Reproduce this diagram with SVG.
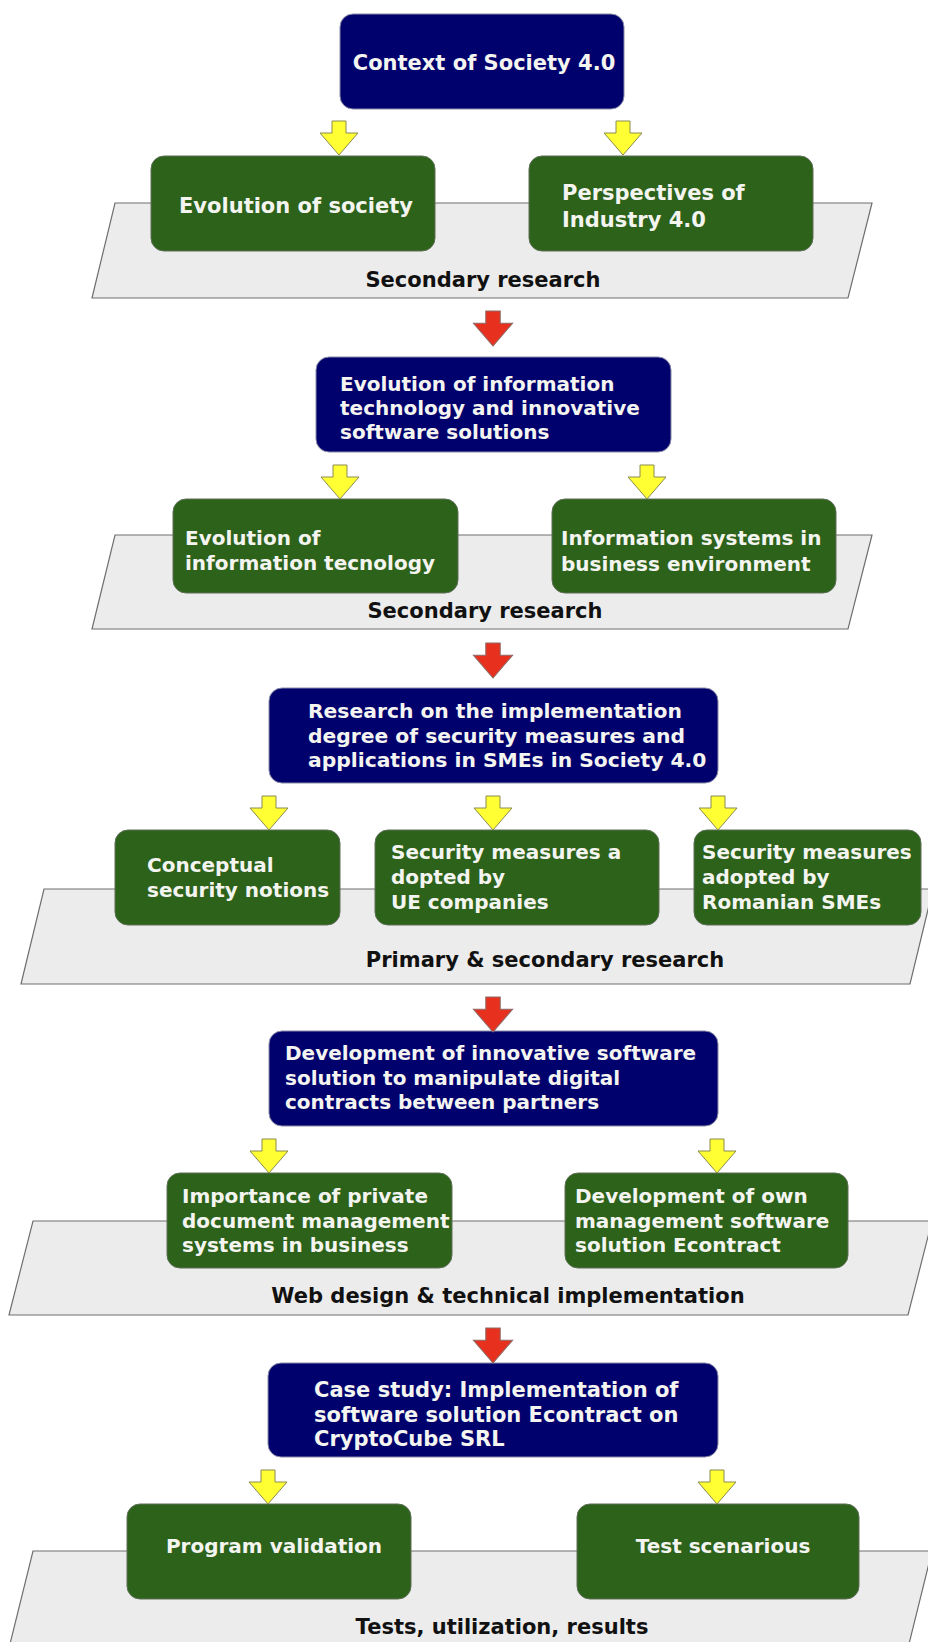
<svg xmlns="http://www.w3.org/2000/svg" xmlns:xlink="http://www.w3.org/1999/xlink" width="928" height="1642" viewBox="0 0 928 1642">
<style>
.bg{fill:#ffffff}
.para{fill:#ececec;stroke:#6e6e6e;stroke-width:1.2}
.blue{fill:#01016e;stroke:#8a8aa8;stroke-width:1}
.green{fill:#2c621a;stroke:#5c6e55;stroke-width:1}
.t{font-family:"DejaVu Sans",Verdana,sans-serif;font-weight:bold;fill:#f4f4f0}
.lbl{font-family:"DejaVu Sans",Verdana,sans-serif;font-weight:bold;fill:#111111;font-size:21px;text-anchor:middle}
.ya{fill:#ffff33;stroke:#8a8a50;stroke-width:1}
.ra{fill:#e8301e;stroke:#8c6a66;stroke-width:1}
</style>
<defs>
<path id="arr" d="M -7,-34 H 7 V -22 H 19 L 0,0 L -19,-22 H -7 Z"/>
</defs>
<rect class="bg" x="0" y="0" width="928" height="1642"/>

<g id="bands">
<polygon class="para" points="115,203 872,203 848,298 92,298"/>
<polygon class="para" points="115,535 872,535 848,629 92,629"/>
<polygon class="para" points="44,889 933,889 910,984 21,984"/>
<polygon class="para" points="33,1221 932,1221 908,1315 9,1315"/>
<polygon class="para" points="33,1551 932,1551 908,1648 9,1648"/>
<text class="lbl" x="483" y="287">Secondary research</text>
<text class="lbl" x="485" y="618">Secondary research</text>
<text class="lbl" x="545" y="967">Primary &amp; secondary research</text>
<text class="lbl" x="508" y="1303">Web design &amp; technical implementation</text>
<text class="lbl" x="502" y="1634">Tests, utilization, results</text>
</g>

<g id="n-context">
<rect class="blue" x="340" y="14" width="284" height="95" rx="13"/>
<text class="t" font-size="21" x="484" y="70" text-anchor="middle">Context of Society 4.0</text>
</g>
<g id="n-evo-society">
<rect class="green" x="151" y="156" width="284" height="95" rx="13"/>
<text class="t" font-size="21" x="296" y="213" text-anchor="middle">Evolution of society</text>
</g>
<g id="n-industry">
<rect class="green" x="529" y="156" width="284" height="95" rx="13"/>
<text class="t" font-size="21"><tspan x="562" y="200">Perspectives of</tspan><tspan x="562" y="227">Industry 4.0</tspan></text>
</g>

<g id="n-it">
<rect class="blue" x="316" y="357" width="355" height="95" rx="13"/>
<text class="t" font-size="20"><tspan x="340" y="391">Evolution of information</tspan><tspan x="340" y="415">technology and innovative</tspan><tspan x="340" y="439">software solutions</tspan></text>
</g>
<g id="n-evo-it">
<rect class="green" x="173" y="499" width="285" height="94" rx="13"/>
<text class="t" font-size="20"><tspan x="185" y="545">Evolution of</tspan><tspan x="185" y="570">information tecnology</tspan></text>
</g>
<g id="n-infosys">
<rect class="green" x="552" y="499" width="284" height="94" rx="13"/>
<text class="t" font-size="20"><tspan x="561" y="545">Information systems in</tspan><tspan x="561" y="571">business environment</tspan></text>
</g>

<g id="n-research">
<rect class="blue" x="269" y="688" width="449" height="95" rx="13"/>
<text class="t" font-size="20.3"><tspan x="308" y="718">Research on the implementation</tspan><tspan x="308" y="743">degree of security measures and</tspan><tspan x="308" y="767">applications in SMEs in Society 4.0</tspan></text>
</g>
<g id="n-conceptual">
<rect class="green" x="115" y="830" width="225" height="95" rx="13"/>
<text class="t" font-size="20"><tspan x="147" y="872">Conceptual</tspan><tspan x="147" y="897">security notions</tspan></text>
</g>
<g id="n-ue">
<rect class="green" x="375" y="830" width="284" height="95" rx="13"/>
<text class="t" font-size="20"><tspan x="391" y="859">Security measures a</tspan><tspan x="391" y="884">dopted by</tspan><tspan x="391" y="909">UE companies</tspan></text>
</g>
<g id="n-ro">
<rect class="green" x="694" y="830" width="227" height="95" rx="13"/>
<text class="t" font-size="20"><tspan x="702" y="859">Security measures</tspan><tspan x="702" y="884">adopted by</tspan><tspan x="702" y="909">Romanian SMEs</tspan></text>
</g>

<g id="n-dev">
<rect class="blue" x="269" y="1031" width="449" height="95" rx="13"/>
<text class="t" font-size="20"><tspan x="285" y="1060">Development of innovative software</tspan><tspan x="285" y="1085">solution to manipulate digital</tspan><tspan x="285" y="1109">contracts between partners</tspan></text>
</g>
<g id="n-importance">
<rect class="green" x="167" y="1173" width="285" height="95" rx="13"/>
<text class="t" font-size="20"><tspan x="182" y="1203">Importance of private</tspan><tspan x="182" y="1228">document management</tspan><tspan x="182" y="1252">systems in business</tspan></text>
</g>
<g id="n-econtract">
<rect class="green" x="565" y="1173" width="283" height="95" rx="13"/>
<text class="t" font-size="20"><tspan x="575" y="1203">Development of own</tspan><tspan x="575" y="1228">management software</tspan><tspan x="575" y="1252">solution Econtract</tspan></text>
</g>

<g id="n-case">
<rect class="blue" x="268" y="1363" width="450" height="94" rx="13"/>
<text class="t" font-size="21"><tspan x="314" y="1397">Case study: Implementation of</tspan><tspan x="314" y="1422">software solution Econtract on</tspan><tspan x="314" y="1446">CryptoCube SRL</tspan></text>
</g>
<g id="n-validation">
<rect class="green" x="127" y="1504" width="284" height="95" rx="13"/>
<text class="t" font-size="20" x="274" y="1553" text-anchor="middle">Program validation</text>
</g>
<g id="n-test">
<rect class="green" x="577" y="1504" width="282" height="95" rx="13"/>
<text class="t" font-size="20" x="723" y="1553" text-anchor="middle">Test scenarious</text>
</g>

<g id="connectors">
<use xlink:href="#arr" class="ya" transform="translate(339,155)"/>
<use xlink:href="#arr" class="ya" transform="translate(623,155)"/>
<use xlink:href="#arr" class="ra" transform="translate(493,346) scale(1.03)"/>
<use xlink:href="#arr" class="ya" transform="translate(340,499)"/>
<use xlink:href="#arr" class="ya" transform="translate(647,499)"/>
<use xlink:href="#arr" class="ra" transform="translate(493,678) scale(1.03)"/>
<use xlink:href="#arr" class="ya" transform="translate(269,830)"/>
<use xlink:href="#arr" class="ya" transform="translate(493,830)"/>
<use xlink:href="#arr" class="ya" transform="translate(718,830)"/>
<use xlink:href="#arr" class="ra" transform="translate(493,1032) scale(1.03)"/>
<use xlink:href="#arr" class="ya" transform="translate(269,1173)"/>
<use xlink:href="#arr" class="ya" transform="translate(717,1173)"/>
<use xlink:href="#arr" class="ra" transform="translate(493,1363) scale(1.03)"/>
<use xlink:href="#arr" class="ya" transform="translate(268,1504)"/>
<use xlink:href="#arr" class="ya" transform="translate(717,1504)"/>
</g>
</svg>
